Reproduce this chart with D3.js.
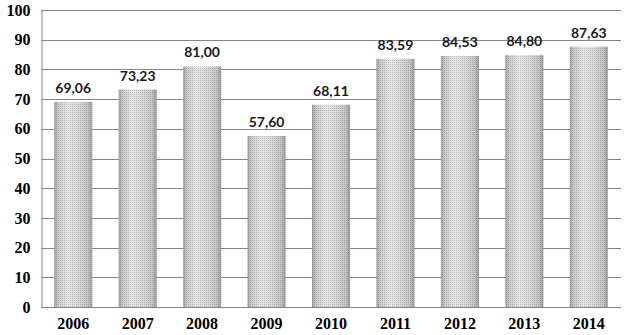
<!DOCTYPE html>
<html><head><meta charset="utf-8">
<script src="https://cdn.jsdelivr.net/npm/d3@7"></script>
<style>body{margin:0;background:#fff}svg{display:block}</style>
</head><body><svg id="c" width="627" height="335"></svg>
<script>
const years = ["2006","2007","2008","2009","2010","2011","2012","2013","2014"];
const values = [69.06,73.23,81.00,57.60,68.11,83.59,84.53,84.80,87.63];
const yTicks = [0,10,20,30,40,50,60,70,80,90,100];

const svg = d3.select("#c");
const m = {l:41, r:6, t:10, b:28};
const W = 627, H = 335;
const x = d3.scaleBand().domain(years).range([m.l, W-m.r]).paddingInner(0.41).paddingOuter(0.205);
const y = d3.scaleLinear().domain([0,100]).range([H-m.b, m.t]);

const defs = svg.append("defs");
const g = defs.append("linearGradient").attr("id","cyl").attr("x1","0").attr("x2","1");
[[0,"#a0a0a0"],[0.1,"#cacaca"],[0.35,"#e8e8e8"],[0.6,"#dcdcdc"],[0.88,"#c6c6c6"],[1,"#9a9a9a"]]
  .forEach(([o,c])=>g.append("stop").attr("offset",o).attr("stop-color",c));
const p = defs.append("pattern").attr("id","dots").attr("width",2).attr("height",2).attr("patternUnits","userSpaceOnUse");
p.append("rect").attr("x",0).attr("y",0).attr("width",1).attr("height",1).attr("fill","#555").attr("opacity",0.28);

// gridlines
svg.append("g").selectAll("line").data(yTicks.filter(d=>d>0)).join("line")
  .attr("x1",m.l).attr("x2",W-m.r).attr("y1",d=>Math.round(y(d))+0.5).attr("y2",d=>Math.round(y(d))+0.5)
  .attr("stroke","#868686").attr("stroke-width",1);

// bars
const bars = svg.append("g");
bars.selectAll("rect.b").data(values).join("rect").attr("class","b")
  .attr("x",(d,i)=>x(years[i])).attr("width",x.bandwidth())
  .attr("y",d=>y(d)).attr("height",d=>y(0)-y(d)).attr("fill","url(#cyl)");
bars.selectAll("rect.d").data(values).join("rect").attr("class","d")
  .attr("x",(d,i)=>x(years[i])).attr("width",x.bandwidth())
  .attr("y",d=>y(d)).attr("height",d=>y(0)-y(d)).attr("fill","url(#dots)");

// axes
const yAxis = d3.axisLeft(y).tickValues(yTicks).tickSize(0).tickPadding(11);
const ya = svg.append("g").attr("transform",`translate(${m.l+0.5},0)`).call(yAxis);
ya.select(".domain").attr("stroke","#868686");
ya.selectAll("text").attr("font-family","'Liberation Serif', serif").attr("font-weight","bold").attr("font-size","16px").attr("fill","#000");

const xAxis = d3.axisBottom(x).tickSize(0).tickPadding(10);
const xa = svg.append("g").attr("transform",`translate(0,${Math.round(y(0))+0.5})`).call(xAxis);
xa.select(".domain").attr("stroke","#868686").attr("d",`M${m.l},0H${W-m.r}`);
xa.selectAll("text").attr("font-family","'Liberation Serif', serif").attr("font-weight","bold").attr("font-size","16px").attr("fill","#000");

// value labels
svg.append("g").selectAll("text").data(values).join("text")
  .attr("x",(d,i)=>x(years[i])+x.bandwidth()/2).attr("y",d=>y(d)-9)
  .attr("text-anchor","middle").attr("font-family","Lato, sans-serif").attr("font-weight","bold")
  .attr("font-size","14px").attr("fill","#1a1a1a")
  .text(d=>d.toFixed(2).replace(".",","));
</script></body></html>
